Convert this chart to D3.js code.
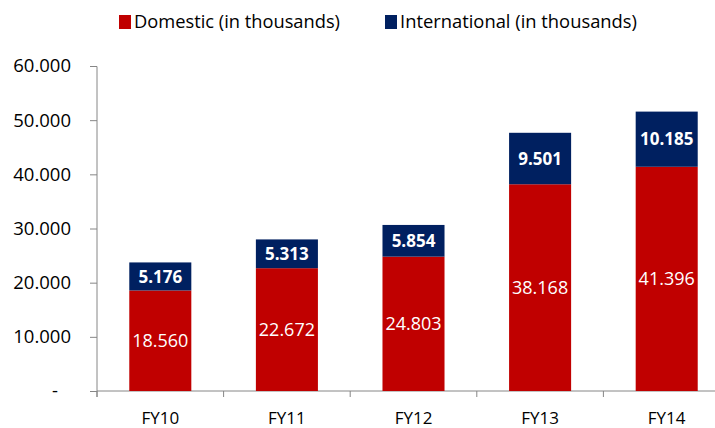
<!DOCTYPE html>
<html>
<head>
<meta charset="utf-8">
<script src="https://cdn.jsdelivr.net/npm/d3@7"></script>
<style>
  body { margin: 0; background: #fff; }
  svg text { font-family: "Open Sans", sans-serif; }
</style>
</head>
<body>
<svg id="chart" width="715" height="428"></svg>
<script>
// data
const categories = ["FY10", "FY11", "FY12", "FY13", "FY14"];
const domestic = [18560, 22672, 24803, 38168, 41396];
const international = [5176, 5313, 5854, 9501, 10185];
const yTicks = [0, 10000, 20000, 30000, 40000, 50000, 60000];
const seriesNames = ["Domestic (in thousands)", "International (in thousands)"];
const colors = ["#C00000", "#002060"];

const svg = d3.select("#chart");
const fmt = v => v === 0 ? "-" : d3.format(",.0f")(v).replace(/,/g, ".");
const fmt3 = v => d3.format(",")(v).replace(/,/g, ".");

// scales
const xScale = d3.scaleBand()
  .domain(categories)
  .range([97, 730])
  .paddingInner(0.51)
  .paddingOuter(0.255);
const yScale = d3.scaleLinear()
  .domain([0, 60000])
  .range([391, 66]);

// y axis
const yAxis = d3.axisLeft(yScale)
  .tickValues(yTicks)
  .tickFormat(fmt)
  .tickSize(7)
  .tickPadding(19);
const gy = svg.append("g")
  .attr("transform", "translate(97,0)")
  .call(yAxis);
gy.select(".domain").attr("stroke", "#868686").attr("d", "M-7,66.5H0V397");
gy.selectAll(".tick line").attr("stroke", "#868686");
gy.selectAll(".tick text")
  .style("font-size", "18.5px")
  .attr("fill", "#000")
  .attr("dx", d => d === 0 ? -13 : 0);

// x axis baseline and boundary ticks
svg.append("line")
  .attr("x1", 97).attr("x2", 730)
  .attr("y1", yScale(0)).attr("y2", yScale(0))
  .attr("stroke", "#868686");
const step = xScale.step();
svg.selectAll(".xtick")
  .data(d3.range(categories.length + 1))
  .enter().append("line")
  .attr("x1", i => 97 + i * step).attr("x2", i => 97 + i * step)
  .attr("y1", yScale(0)).attr("y2", yScale(0) + 6)
  .attr("stroke", "#868686");

svg.selectAll(".xlabel")
  .data(categories)
  .enter().append("text")
  .attr("x", d => xScale(d) + xScale.bandwidth() / 2)
  .attr("y", 424)
  .attr("text-anchor", "middle")
  .style("font-size", "17px")
  .attr("fill", "#000")
  .text(d => d);

// bars
const bw = xScale.bandwidth();
svg.selectAll(".dom")
  .data(categories)
  .enter().append("rect")
  .attr("x", d => xScale(d))
  .attr("y", (d, i) => yScale(domestic[i]))
  .attr("width", bw)
  .attr("height", (d, i) => yScale(0) - yScale(domestic[i]))
  .attr("fill", colors[0]);

svg.selectAll(".intl")
  .data(categories)
  .enter().append("rect")
  .attr("x", d => xScale(d))
  .attr("y", (d, i) => yScale(domestic[i] + international[i]))
  .attr("width", bw)
  .attr("height", (d, i) => yScale(domestic[i]) - yScale(domestic[i] + international[i]))
  .attr("fill", colors[1]);

// bar labels
svg.selectAll(".domlbl")
  .data(categories)
  .enter().append("text")
  .attr("x", d => xScale(d) + bw / 2)
  .attr("y", (d, i) => (yScale(0) + yScale(domestic[i])) / 2)
  .attr("dy", "0.36em")
  .attr("text-anchor", "middle")
  .style("font-size", "18px")
  .attr("fill", "#fff")
  .text((d, i) => fmt3(domestic[i]));

svg.selectAll(".intllbl")
  .data(categories)
  .enter().append("text")
  .attr("x", d => xScale(d) + bw / 2)
  .attr("y", (d, i) => (yScale(domestic[i]) + yScale(domestic[i] + international[i])) / 2)
  .attr("dy", "0.36em")
  .attr("text-anchor", "middle")
  .style("font-size", "17px")
  .style("font-weight", "bold")
  .attr("fill", "#fff")
  .text((d, i) => fmt3(international[i]));

// legend
const legendX = [119, 385];
const legendW = [206, 237];
seriesNames.forEach((name, i) => {
  svg.append("rect")
    .attr("x", legendX[i]).attr("y", 15)
    .attr("width", 12).attr("height", 14)
    .attr("fill", colors[i]);
  svg.append("text")
    .attr("x", legendX[i] + 15).attr("y", 28)
    .style("font-size", "18px")
    .attr("fill", "#000")
    .attr("textLength", legendW[i])
    .attr("lengthAdjust", "spacingAndGlyphs")
    .text(name);
});
</script>
</body>
</html>
